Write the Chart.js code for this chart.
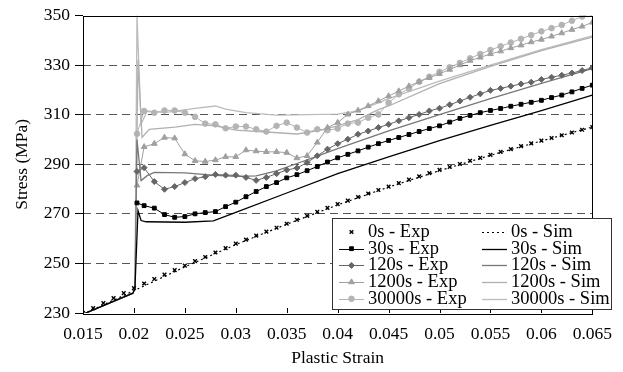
<!DOCTYPE html>
<html>
<head>
<meta charset="utf-8">
<script src="https://cdn.jsdelivr.net/npm/chart.js@4"></script>
<style>
  body { margin: 0; background: #fff; }
  #wrap { width: 623px; height: 372px; }
</style>
</head>
<body>
<div id="wrap"><canvas id="stress_strain" width="623" height="372"></canvas></div>
<script>
// axis ticks
const xTicks = [0.015, 0.02, 0.025, 0.03, 0.035, 0.04, 0.045, 0.05, 0.055, 0.06, 0.065];
const yTicks = [230, 250, 270, 290, 310, 330, 350];

// 0s experiment (x markers)
const strain0Exp = [0.015, 0.016, 0.017, 0.018, 0.019, 0.020, 0.021, 0.022, 0.023, 0.024,
  0.025, 0.026, 0.027, 0.028, 0.029, 0.030, 0.031, 0.032, 0.033, 0.034,
  0.035, 0.036, 0.037, 0.038, 0.039, 0.040, 0.041, 0.042, 0.043, 0.044,
  0.045, 0.046, 0.047, 0.048, 0.049, 0.050, 0.051, 0.052, 0.053, 0.054,
  0.055, 0.056, 0.057, 0.058, 0.059, 0.060, 0.061, 0.062, 0.063, 0.064, 0.065];
const stress0Exp = [230.0, 232.0, 234.0, 236.0, 238.0, 240.0, 241.9, 243.7, 245.5, 247.3,
  249.1, 250.9, 252.6, 254.4, 256.2, 258.0, 259.6, 261.2, 262.8, 264.4,
  266.0, 267.6, 269.2, 270.8, 272.4, 273.9, 275.3, 276.8, 278.2, 279.6,
  281.0, 282.4, 283.8, 285.1, 286.4, 287.7, 288.9, 290.1, 291.4, 292.6,
  293.8, 295.0, 296.1, 297.3, 298.4, 299.5, 300.6, 301.7, 302.8, 303.9, 305.0];

// other experiments share the same strain points
const strainExp = [0.0203, 0.021, 0.022, 0.023, 0.024, 0.025, 0.026, 0.027, 0.028, 0.029,
  0.030, 0.031, 0.032, 0.033, 0.034, 0.035, 0.036, 0.037, 0.038, 0.039,
  0.040, 0.041, 0.042, 0.043, 0.044, 0.045, 0.046, 0.047, 0.048, 0.049,
  0.050, 0.051, 0.052, 0.053, 0.054, 0.055, 0.056, 0.057, 0.058, 0.059,
  0.060, 0.061, 0.062, 0.063, 0.064, 0.065];
const stress30Exp = [274.4, 273.3, 272.3, 269.7, 268.6, 268.9, 270.0, 270.5, 270.9, 272.9,
  274.7, 276.9, 279.0, 281.0, 282.6, 284.5, 285.8, 287.4, 289.1, 290.9,
  292.6, 294.0, 295.4, 296.9, 298.3, 299.6, 300.8, 302.0, 303.2, 304.4,
  305.5, 307.0, 308.5, 309.7, 310.8, 311.7, 312.5, 313.4, 314.2, 315.0,
  315.8, 316.9, 317.9, 319.2, 320.6, 321.9];
const stress120Exp = [287.1, 288.6, 283.0, 279.9, 281.0, 282.6, 284.2, 285.0, 285.9, 285.6,
  285.6, 284.7, 283.5, 284.7, 286.2, 287.7, 288.5, 290.7, 293.4, 296.1,
  298.3, 300.1, 302.1, 303.4, 304.8, 306.1, 307.5, 308.8, 310.1, 311.5,
  312.6, 314.0, 315.5, 317.0, 318.4, 319.8, 320.6, 321.5, 322.4, 323.1,
  324.2, 325.1, 325.9, 326.8, 327.8, 328.9];
const stress1200Exp = [281.5, 297.0, 298.3, 300.8, 300.5, 294.1, 291.4, 291.1, 291.7, 293.0,
  293.0, 295.7, 295.3, 295.0, 295.0, 294.7, 292.5, 293.4, 298.8, 304.8,
  306.8, 310.1, 311.7, 313.5, 315.5, 317.5, 319.5, 321.5, 323.3, 324.9,
  326.5, 328.2, 330.0, 331.8, 333.1, 334.5, 335.6, 336.9, 338.0, 339.3,
  340.3, 341.6, 342.9, 344.3, 345.6, 347.2];
const stress30000Exp = [302.3, 311.5, 310.8, 311.7, 311.7, 310.8, 309.1, 306.4, 306.1, 304.5,
  305.2, 305.2, 304.1, 303.2, 305.5, 306.8, 304.8, 302.8, 304.1, 303.7,
  304.4, 306.4, 306.8, 308.8, 310.1, 314.8, 318.2, 320.5, 323.3, 325.3,
  327.3, 329.1, 330.9, 332.7, 334.5, 336.1, 337.6, 339.1, 340.6, 342.1,
  343.6, 344.9, 346.2, 347.9, 349.6, 350.8];

// simulations
const strain0Sim = [0.015, 0.020, 0.025, 0.030, 0.035, 0.040, 0.045, 0.050, 0.055, 0.060, 0.065];
const stress0Sim = [229.5, 239.0, 248.6, 257.6, 265.8, 273.6, 280.8, 287.4, 293.6, 299.4, 305.0];

const strain30Sim = [0.015, 0.0199, 0.0201, 0.0204, 0.0207, 0.0212, 0.025, 0.0278, 0.030, 0.035, 0.040, 0.045, 0.050, 0.055, 0.060, 0.065];
const stress30Sim = [229.5, 238.0, 240.0, 271.3, 267.3, 266.8, 266.6, 267.2, 270.6, 278.4, 286.2, 293.0, 299.5, 305.7, 311.6, 317.9];

const strain120Sim = [0.015, 0.0199, 0.0201, 0.0203, 0.0207, 0.0213, 0.022, 0.025, 0.028, 0.030, 0.032, 0.034, 0.036, 0.038, 0.040, 0.045, 0.050, 0.055, 0.060, 0.065];
const stress120Sim = [229.5, 238.0, 240.0, 300.0, 283.4, 285.4, 286.7, 286.5, 285.5, 285.1, 285.3, 287.3, 290.3, 293.3, 296.3, 303.5, 310.0, 316.5, 322.6, 328.6];

const strain1200Sim = [0.015, 0.0199, 0.0201, 0.0204, 0.0208, 0.0215, 0.024, 0.026, 0.028, 0.030, 0.033, 0.036, 0.038, 0.040, 0.042, 0.044, 0.045, 0.050, 0.055, 0.060, 0.065];
const stress1200Sim = [229.5, 238.0, 240.0, 332.0, 300.8, 304.1, 305.0, 306.1, 305.5, 303.8, 303.0, 302.2, 303.5, 305.5, 308.0, 312.0, 313.5, 322.5, 329.5, 335.8, 341.3];

const strain30000Sim = [0.015, 0.0199, 0.0201, 0.0203, 0.0207, 0.0213, 0.023, 0.026, 0.028, 0.029, 0.031, 0.034, 0.037, 0.040, 0.042, 0.045, 0.050, 0.055, 0.060, 0.065];
const stress30000Sim = [229.5, 238.0, 240.0, 350.0, 306.1, 311.5, 310.8, 312.5, 313.5, 312.2, 310.8, 309.8, 310.0, 310.2, 311.5, 316.5, 323.5, 330.0, 336.2, 341.8];

function pts(xs, ys) {
    return xs.map(function (x, i) { return {x: x, y: ys[i]}; });
}

document.addEventListener('DOMContentLoaded', function () {

    const serif = 'Liberation Serif';

    const datasets = [
        {label: '0s - Exp', data: pts(strain0Exp, stress0Exp), showLine: false,
            pointStyle: 'crossRot', pointRadius: 2.6, pointBorderWidth: 1.4,
            borderColor: '#000', backgroundColor: '#000'},
        {label: '0s - Sim', data: pts(strain0Sim, stress0Sim), showLine: true,
            pointRadius: 0, borderWidth: 1.2, borderDash: [2, 3],
            borderColor: '#000'},
        {label: '30s - Exp', data: pts(strainExp, stress30Exp), showLine: true,
            pointStyle: 'rect', pointRadius: 2.7, borderWidth: 1,
            borderColor: '#000', backgroundColor: '#000'},
        {label: '30s - Sim', data: pts(strain30Sim, stress30Sim), showLine: true,
            pointRadius: 0, borderWidth: 1.3, borderColor: '#000'},
        {label: '120s - Exp', data: pts(strainExp, stress120Exp), showLine: true,
            pointStyle: 'rectRot', pointRadius: 3, borderWidth: 1,
            borderColor: '#666', backgroundColor: '#666'},
        {label: '120s - Sim', data: pts(strain120Sim, stress120Sim), showLine: true,
            pointRadius: 0, borderWidth: 1.3, borderColor: '#777'},
        {label: '1200s - Exp', data: pts(strainExp, stress1200Exp), showLine: true,
            pointStyle: 'triangle', pointRadius: 3.3, borderWidth: 1,
            borderColor: '#a0a0a0', backgroundColor: '#a0a0a0'},
        {label: '1200s - Sim', data: pts(strain1200Sim, stress1200Sim), showLine: true,
            pointRadius: 0, borderWidth: 1.3, borderColor: '#b0b0b0'},
        {label: '30000s - Exp', data: pts(strainExp, stress30000Exp), showLine: true,
            pointStyle: 'circle', pointRadius: 2.8, borderWidth: 1,
            borderColor: '#b4b4b4', backgroundColor: '#b4b4b4'},
        {label: '30000s - Sim', data: pts(strain30000Sim, stress30000Sim), showLine: true,
            pointRadius: 0, borderWidth: 1.3, borderColor: '#bcbcbc'}
    ];

    // box round the plot and short inward ticks on the x axis
    const framePlugin = {
        id: 'frame',
        afterDatasetsDraw: function (chart) {
            const ctx = chart.ctx;
            const a = chart.chartArea;
            const xs = chart.scales.x;
            ctx.save();
            ctx.strokeStyle = '#000';
            ctx.lineWidth = 1;
            ctx.strokeRect(Math.round(a.left) + 0.5, Math.round(a.top) + 0.5,
                Math.round(a.right - a.left), Math.round(a.bottom - a.top));
            ctx.beginPath();
            xTicks.forEach(function (v) {
                const px = Math.round(xs.getPixelForValue(v)) + 0.5;
                ctx.moveTo(px, a.bottom);
                ctx.lineTo(px, a.bottom - 5);
            });
            ctx.stroke();
            ctx.restore();
        },
        afterDraw: function (chart) {
            // legend: Exp on the left, Sim on the right
            const ctx = chart.ctx;
            const box = {left: 332, top: 218, right: 611, bottom: 309};
            ctx.save();
            ctx.fillStyle = '#fff';
            ctx.fillRect(box.left, box.top, box.right - box.left, box.bottom - box.top);
            ctx.strokeStyle = '#333';
            ctx.lineWidth = 1;
            ctx.strokeRect(box.left + 0.5, box.top + 0.5, box.right - box.left, box.bottom - box.top);
            ctx.font = '18.5px "' + serif + '"';
            ctx.textBaseline = 'middle';
            chart.data.datasets.forEach(function (ds, i) {
                const col = i % 2;
                const row = Math.floor(i / 2);
                const y = box.top + 14 + row * 16.7;
                const x0 = col === 0 ? 339 : 482;
                const x1 = x0 + 25;
                if (ds.showLine) {
                    ctx.save();
                    ctx.strokeStyle = ds.borderColor;
                    ctx.lineWidth = ds.borderWidth;
                    ctx.setLineDash(ds.borderDash || []);
                    ctx.beginPath();
                    ctx.moveTo(x0, Math.round(y) + 0.5);
                    ctx.lineTo(x1, Math.round(y) + 0.5);
                    ctx.stroke();
                    ctx.restore();
                }
                if (ds.pointRadius > 0) {
                    ctx.save();
                    ctx.fillStyle = ds.backgroundColor;
                    ctx.strokeStyle = ds.borderColor;
                    ctx.lineWidth = ds.pointBorderWidth || 1;
                    Chart.helpers.drawPoint(ctx, {pointStyle: ds.pointStyle, radius: ds.pointRadius,
                        rotation: 0, borderWidth: ds.pointBorderWidth || 1}, (x0 + x1) / 2, y);
                    ctx.restore();
                }
                ctx.fillStyle = '#000';
                ctx.fillText(ds.label, x1 + 4, y);
            });
            ctx.restore();
        }
    };

    const tickFont = {family: serif, size: 17.5};

    const config = {
        type: 'scatter',
        data: {datasets: datasets},
        options: {
            responsive: false,
            animation: false,
            layout: {padding: {left: 0, top: 14, right: 30, bottom: 0}},
            plugins: {legend: {display: false}, tooltip: {enabled: false}},
            scales: {
                x: {
                    type: 'linear', min: 0.015, max: 0.065,
                    afterBuildTicks: function (s) { s.ticks = xTicks.map(function (v) { return {value: v}; }); },
                    afterFit: function (s) { s.height = 59; },
                    grid: {display: false, drawTicks: false},
                    border: {display: false},
                    ticks: {color: '#000', font: tickFont, padding: 11, maxRotation: 0, autoSkip: false,
                        callback: function (v) { return String(v); }},
                    title: {display: true, text: 'Plastic Strain', color: '#000', font: tickFont,
                        padding: {top: 0, bottom: 3}}
                },
                y: {
                    min: 230, max: 350,
                    afterBuildTicks: function (s) { s.ticks = yTicks.map(function (v) { return {value: v}; }); },
                    afterFit: function (s) { s.width = 83; },
                    grid: {
                        color: function (c) { return (c.tick && (c.tick.value === 230 || c.tick.value === 350)) ? 'rgba(0,0,0,0)' : '#555'; },
                        lineWidth: 1, tickLength: 8, tickColor: '#000'
                    },
                    border: {display: false, dash: [8, 5]},
                    ticks: {color: '#000', font: tickFont, padding: 5},
                    title: {display: true, text: 'Stress (MPa)', color: '#000', font: tickFont,
                        padding: {top: 12, bottom: 0}}
                }
            }
        },
        plugins: [framePlugin]
    };

    var ctx = document.getElementById('stress_strain').getContext('2d');
    var stress_strain = new Chart(ctx, config);
});
</script>
</body>
</html>
